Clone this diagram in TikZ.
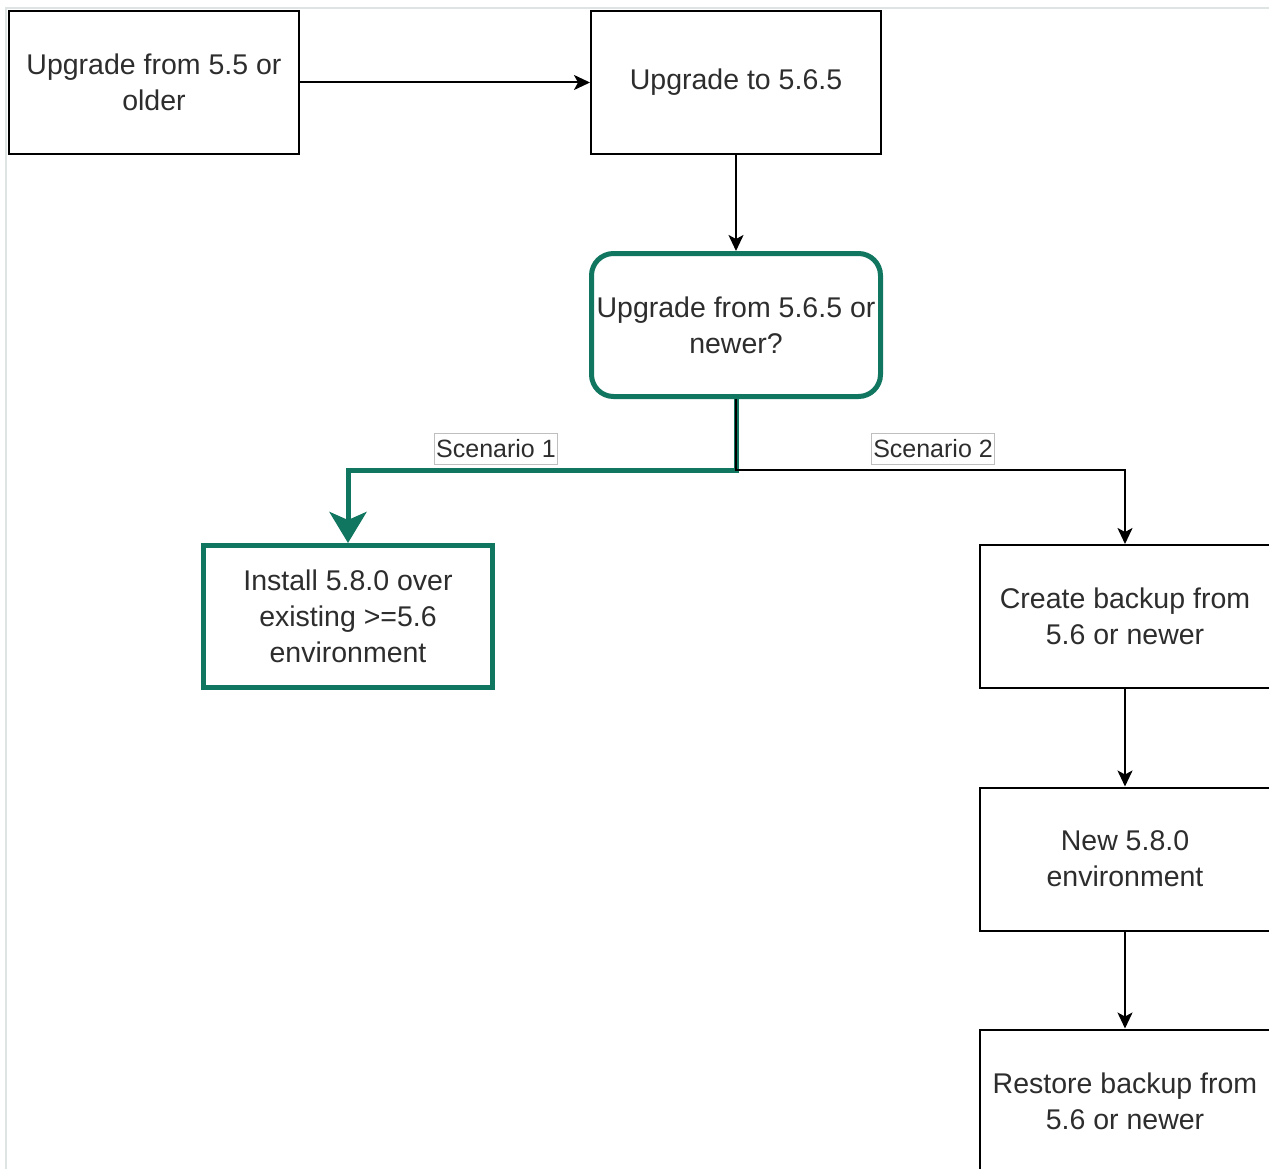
\documentclass[tikz,border=0pt]{standalone}
\usepackage{fontspec}
\setmainfont{Liberation Sans}
\usetikzlibrary{arrows.meta}
\definecolor{grn}{RGB}{16,118,96}
\definecolor{txt}{RGB}{45,45,45}
\definecolor{pageline}{RGB}{222,227,227}
\begin{document}
\begin{tikzpicture}[x=1pt,y=-1pt,
  every node/.style={font=\fontsize{28.5}{36}\selectfont, text=txt},
  box/.style={draw=black, line width=2pt, minimum width=290pt, minimum height=143pt, align=center, inner sep=0pt, fill=white},
  gbox/.style={draw=grn, line width=5pt, minimum width=289pt, minimum height=142pt, align=center, inner sep=0pt, fill=white},
  lbl/.style={draw=black!25, line width=1pt, fill=white, inner sep=2pt, minimum height=31pt, font=\fontsize{25}{30}\selectfont},
  arr/.style={-{Stealth[length=16pt,width=15pt,inset=4pt]}, line width=2pt},
  garr/.style={draw=grn, line width=5pt, -{Stealth[length=31pt,width=37pt,inset=8pt]}}]
\useasboundingbox (0,0) rectangle (1269,1169);
\fill[white] (0,0) rectangle (1269,1169);
\draw[pageline, line width=2.5pt] (6,1169) -- (6,8) -- (1269,8);

\node[box] (A) at (154,82.5) {Upgrade from 5.5 or\\older};
\node[box] (B) at (736,82.5) {Upgrade to 5.6.5};
\node[gbox, rounded corners=22pt, minimum height=143pt] (C) at (736,325) {Upgrade from 5.6.5 or\\newer?};
\node[gbox] (D) at (348,616.5) {Install 5.8.0 over\\existing >=5.6\\environment};
\node[box] (E) at (1125,616.5) {Create backup from\\5.6 or newer};
\node[box] (F) at (1125,859) {New 5.8.0\\environment};
\node[box] (G) at (1125,1101) {Restore backup from\\5.6 or newer};

\coordinate (J) at (736,470);
\draw[arr] (A) -- (B);
\draw[arr] (B) -- (C);
\draw[garr] (C.south) -- (J) -| (D.north);
\draw[arr] (C.south) -- (J) -| (E.north);
\draw[arr] (E) -- (F);
\draw[arr] (F) -- (G);

\node[lbl] (s1) at (496,449) {Scenario 1};
\node[lbl] (s2) at (933,449) {Scenario 2};
\end{tikzpicture}
\end{document}
